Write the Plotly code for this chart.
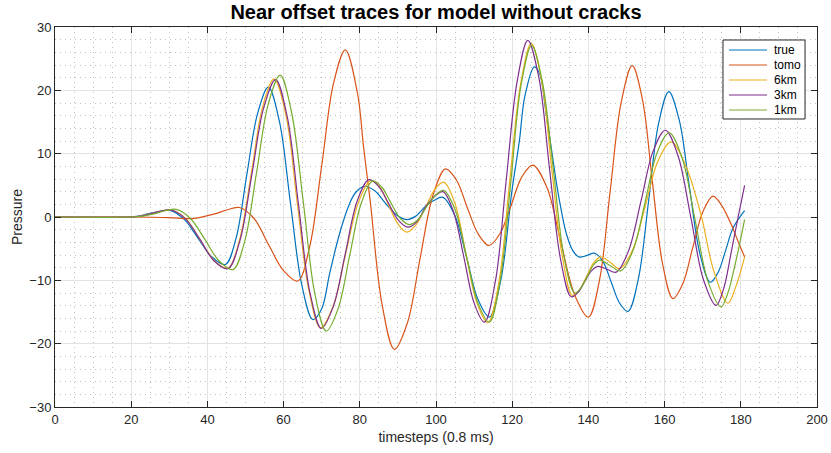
import plotly.graph_objects as go

# ---- data (values read / estimated from the reference picture) ----
true_t = [0, 12, 19, 22, 24.5, 27, 30.1, 33.8, 37.4, 41, 44.7, 47.5, 50.3, 53.2, 56.0, 58.9, 61.8, 64.8,
          67.7, 70, 72.1, 74.7, 77.3, 79, 81.2, 84, 86.7, 89.5, 92.2, 94.6, 97.4, 99.4, 101.8, 104.9, 108,
          111, 114, 117, 119.9, 121.9, 123.3, 125.8, 127.2, 128.9, 130.2, 131.5, 132.4, 134.2, 135.9, 137.5,
          139.5, 141.6, 143.8, 146, 148.2, 150.4, 153.1, 155.8, 158.4, 161.1, 163.8, 166.5, 169.3, 172,
          174, 176, 178, 181]
true_v = [0, 0, 0, 0.15, 0.5, 0.8, 1.05, -0.3, -3.2, -6.2, -7.5, -3.4, 6.5, 16.4, 20.5, 15.1, 2.2, -10.8,
          -16.2, -14.5, -8.9, -2.6, 2.1, 3.95, 4.85, 4.1, 2.2, 0.4, -0.4, 0.1, 1.8, 2.6, 3.1, 0.3, -6.3,
          -13.0, -15.8, -10.0, 4.0, 12.1, 19.0, 23.7, 22.6, 16.3, 11.1, 5.8, 2.6, -2.6, -5.3, -6.3,
          -6.1, -5.7, -7.0, -10.3, -13.6, -14.9, -9.8, 2.5, 14.7, 19.8, 15.4, 4.8, -5.9, -10.3,
          -8.8, -5.3, -1.7, 1.0]

tomo_t = [0, 20, 30, 36, 42, 45, 48.4, 52.2, 56, 59.9, 63.7, 66.8, 70, 73.1, 76.2, 79.4, 81, 82.7, 85.9,
          89.1, 92.5, 95.8, 99.2, 102.5, 105.4, 108.2, 111.1, 113.9, 116.8, 119.7, 122.5, 125.4, 129.1,
          132.7, 136.4, 140, 142.9, 145.7, 148.6, 151.5, 154.2, 156.8, 159.5, 162.2, 164.8, 167.4, 170.1,
          172.7, 175, 177.5, 179.5, 181]
tomo_v = [0, 0, -0.1, -0.25, 0.5, 1.1, 1.5, -0.2, -4.3, -8.4, -10.1, -4.8, 8.1, 21.1, 26.4, 19.5, 11.0, 2.7,
          -14.0, -20.9, -16.7, -6.6, 3.4, 7.6, 5.8, 1.5, -2.7, -4.5, -2.6, 1.8, 6.3, 8.2, 4.7,
          -3.8, -12.3, -15.8, -10.0, 4.0, 18.1, 23.9, 18.5, 5.5, -7.5, -12.9, -10.5, -4.8, 0.9,
          3.3, 1.8, -1.2, -4.2, -6.3]

km6_t = [0, 20, 22.5, 25, 27.5, 30.5, 34.2, 38.0, 41.7, 45.4, 48.4, 51.5, 54.5, 57.5, 60.6, 63.6, 66.7,
         69.7, 73.0, 76.3, 79.7, 83.0, 85.4, 87.7, 90.1, 92.4, 94.8, 97.4, 99.6, 102.0, 104.9, 107.8, 110.7,
         113.6, 116.5, 119.3, 122.2, 125.0, 127.7, 130.4, 133.1, 135.8, 137.7, 139.5, 141.4, 143.3, 145.8,
         148.2, 151.6, 155.0, 158.3, 161.7, 165.4, 169.5, 172.9, 176.6, 178.8, 181]
km6_v = [0, 0, 0.15, 0.5, 0.9, 1.1, -0.2, -3.5, -6.8, -8.1, -3.7, 6.8, 17.4, 21.8, 16.1, 2.1, -11.8,
         -17.5, -14.1, -5.8, 2.4, 5.8, 4.6, 1.7, -1.2, -2.4, -1.2, 1.7, 4.3, 5.5, 2.3, -5.6, -13.5,
         -16.7, -10.3, 5.4, 21.0, 27.4, 21.6, 7.5, -6.0, -12.4, -11.5, -9.4, -7.2, -6.3, -7.2,
         -8.15, -5.2, 1.9, 8.9, 11.85, 8.3, 0.5, -8.5, -13.6, -10.8, -6.3]

km3_t = [0, 20, 22.5, 25, 27.5, 30.5, 34.2, 38.0, 41.7, 45.4, 48.5, 51.7, 54.8, 57.9, 60.9, 63.9, 66.9,
         69.9, 73.0, 76.2, 79.3, 82.4, 85.0, 87.5, 90.1, 92.6, 94.9, 97.3, 99.5, 101.8, 104.5, 107.3, 110.0,
         112.7, 115.6, 118.4, 121.3, 124.1, 127.0, 129.8, 132.7, 135.5, 137.3, 139.0, 140.8, 142.5, 144.9,
         147.3, 150.5, 153.8, 157.0, 160.2, 163.5, 166.9, 170.2, 173.5, 175.5, 177.5, 179.3, 181]
km3_v = [0, 0, 0.15, 0.5, 0.9, 1.1, -0.25, -3.5, -6.9, -8.15, -3.8, 6.8, 17.3, 21.7, 16.0, 2.0, -11.9,
         -17.6, -14.2, -5.8, 2.5, 5.9, 4.8, 2.2, -0.5, -1.6, -0.8, 1.6, 3.2, 4.0, 1.0, -6.3, -13.6,
         -16.6, -10.1, 5.6, 21.4, 27.9, 22.0, 7.6, -6.7, -12.6, -11.9, -10.2, -8.5, -7.8, -8.25,
         -8.7, -5.4, 2.5, 10.4, 13.7, 9.7, -0.1, -9.9, -13.95, -11.3, -5.5, 0.0, 5.0]

km1_t = [0, 20, 23, 26, 29, 31.8, 35.5, 39.3, 43.0, 46.7, 49.8, 52.9, 56.0, 59.1, 62.1, 65.2, 68.2,
         71.2, 74.3, 77.3, 80.4, 83.4, 85.8, 88.2, 90.6, 93.0, 95.3, 97.5, 99.8, 102.0, 105.0, 108.0, 111.0,
         114.0, 116.8, 119.6, 122.3, 125.1, 127.9, 130.8, 133.6, 136.4, 138.0, 139.7, 141.3, 142.9, 145.7,
         148.5, 151.7, 154.9, 158.0, 161.2, 164.6, 168.0, 171.4, 174.8, 176.5, 178.5, 181]
km1_v = [0, 0, 0.15, 0.5, 1.0, 1.2, -0.2, -3.5, -6.9, -8.3, -3.8, 7.0, 17.9, 22.4, 16.5, 2.2, -12.1,
         -18.0, -14.5, -6.2, 2.2, 5.7, 4.7, 2.2, -0.2, -1.2, -0.4, 1.6, 3.4, 4.2, 1.2, -6.2, -13.6,
         -16.6, -10.2, 5.3, 20.7, 27.1, 21.4, 7.5, -6.3, -12.0, -11.2, -9.4, -7.6, -6.8, -7.65,
         -8.5, -5.3, 2.4, 10.1, 13.3, 9.3, -0.45, -10.2, -14.2, -12.2, -7.5, -0.4]

names = ["true", "tomo", "6km", "3km", "1km"]
colors = ["#0072BD", "#D95319", "#EDB120", "#7E2F8E", "#77AC30"]
xs = [true_t, tomo_t, km6_t, km3_t, km1_t]
ys = [true_v, tomo_v, km6_v, km3_v, km1_v]

FONT = "Liberation Sans, Arial, Helvetica, sans-serif"
AX = "#262626"

fig = go.Figure()
for name, t, v, c in zip(names, xs, ys, colors):
    fig.add_trace(go.Scatter(x=t, y=v, name=name, mode="lines", showlegend=False,
                             line=dict(color=c, width=1.2, shape="spline", smoothing=1.0)))

axis_common = dict(
    showline=True, linecolor=AX, linewidth=1, mirror="allticks",
    ticks="inside", ticklen=6, tickcolor=AX, tickwidth=1,
    showgrid=True, gridcolor="#e3e3e3", gridwidth=1,
    zeroline=False, automargin=False,
    tickfont=dict(family=FONT, size=13, color=AX),
)

fig.update_xaxes(range=[0, 200], dtick=20, tick0=0,
                 title=dict(text="timesteps (0.8 ms)", font=dict(family=FONT, size=14, color=AX), standoff=6),
                 minor=dict(dtick=5, showgrid=True, gridcolor="#c0c0c0", griddash="1px,4px", ticks=""),
                 **axis_common)
fig.update_yaxes(range=[-30, 30], dtick=10, tick0=0,
                 title=dict(text="Pressure", font=dict(family=FONT, size=14, color=AX), standoff=3),
                 minor=dict(dtick=2, showgrid=True, gridcolor="#c0c0c0", griddash="1px,4px", ticks=""),
                 **axis_common)

# compact legend box in paper coordinates (as in the reference)
fig.add_shape(type="rect", xref="paper", yref="paper", x0=0.8766, x1=0.9843, y0=0.7579, y1=0.9658,
              line=dict(color=AX, width=1), fillcolor="white", layer="above")
row_y = [0.9395, 0.9000, 0.8605, 0.8211, 0.7816]
for name, c, yy in zip(names, colors, row_y):
    fig.add_shape(type="line", xref="paper", yref="paper", x0=0.8845, x1=0.9344, y0=yy, y1=yy,
                  line=dict(color=c, width=1.2), layer="above")
    fig.add_annotation(xref="paper", yref="paper", x=0.941, y=yy, text=name, showarrow=False,
                       xanchor="left", yanchor="middle",
                       font=dict(family=FONT, size=12, color="black"))

fig.update_layout(
    width=831, height=453,
    margin=dict(l=55, r=14, t=27, b=46),
    paper_bgcolor="white", plot_bgcolor="white",
    title=dict(text="<b>Near offset traces for model without cracks</b>",
               font=dict(family=FONT, size=20, color="black"),
               x=0.5, xanchor="center", y=0.99, yanchor="top",
               xref="paper"),
    showlegend=False,
)

fig.write_html("out.html")
